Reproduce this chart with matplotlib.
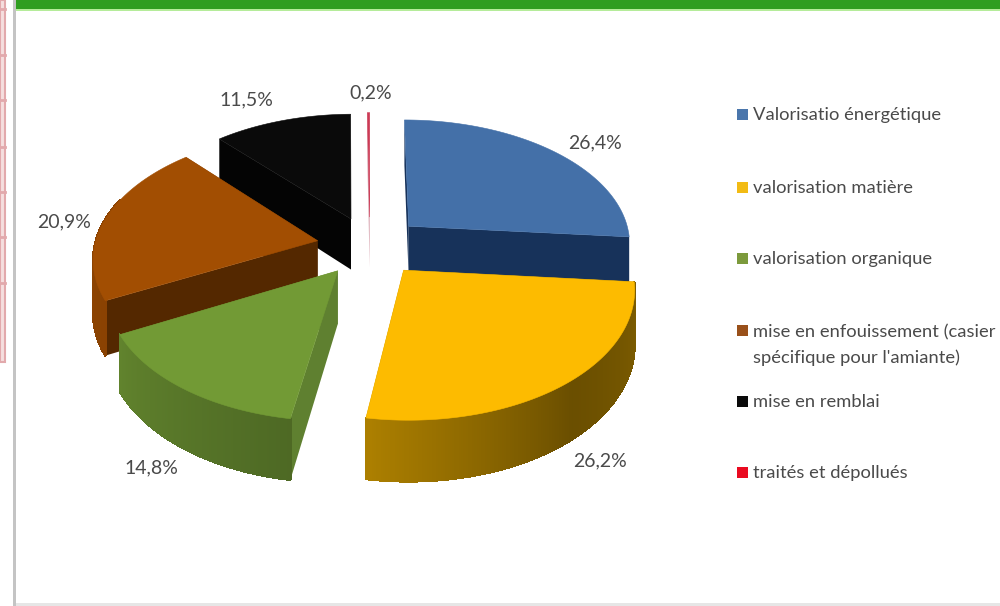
import numpy as np
import matplotlib
matplotlib.use("Agg")
import matplotlib.pyplot as plt
from matplotlib.collections import PolyCollection
from matplotlib.patches import Polygon, Rectangle

plt.rcParams["font.family"] = ["Lato", "DejaVu Sans"]

categories = ["Valorisatio énergétique", "valorisation matière", "valorisation organique",
              "mise en enfouissement (casier\nspécifique pour l'amiante)", "mise en remblai",
              "traités et dépollués"]
values = [26.4, 26.2, 14.8, 20.9, 11.5, 0.2]
value_labels = ["26,4%", "26,2%", "14,8%", "20,9%", "11,5%", "0,2%"]

top_colors = ["#4470a8", "#fdbb00", "#729a35", "#a24e02", "#0a0a0a", "#cc3a55"]
cut_colors = ["#17325a", "#7a5c00", "#5f8030", "#542800", "#040404", "#d8a0ac"]
legend_colors = ["#4a76ac", "#f2bb14", "#7c9a3c", "#99501a", "#0a0a0a", "#ea0a20"]

# pie geometry in image pixels
CX, CY = 370, 246
RX, RY = 223, 124.4
EXPLODE = 0.24
PERSP = 0.1265
DEPTH = 52

label_pos = [(595, 143), (600, 461), (151, 468), (64, 222), (246, 100), (371, 93)]
legend_y = [114, 187, 258, 330, 401, 472]
legend_text_y = [115, 188, 259, 345, 402, 473]
draw_order = [4, 5, 0, 3, 2, 1]


def project(x, y, z=0.0):
    """disc coords (y towards the back) -> pixels, simple perspective."""
    w = 1 / (1 + PERSP * y)
    return CX + RX * x * w, CY - RY * y * w + DEPTH * z * w


def shade(theta):
    return np.interp(theta, [95, 140, 189, 243, 300], [0.5, 0.42, 0.68, 0.85, 0.88])


def draw_slice(ax, start, end, color, cut_color):
    mid = np.radians((start + end) / 2)
    ox, oy = EXPLODE * np.sin(mid), EXPLODE * np.cos(mid)
    th = np.linspace(start, end, max(int(end - start) * 2, 2))
    rad = np.radians(th)
    xs, ys = ox + np.sin(rad), oy + np.cos(rad)

    # cut faces
    for i in (0, -1):
        quad = [project(ox, oy), project(xs[i], ys[i]),
                project(xs[i], ys[i], 1), project(ox, oy, 1)]
        ax.add_patch(Polygon(quad, closed=True, fc=cut_color, ec="none"))

    # outer wall, shaded strip by strip; the far back is never seen
    base = np.array(matplotlib.colors.to_rgb(color))
    quads, cols = [], []
    for k in range(len(th) - 1):
        if not 95 <= th[k] <= 290:
            continue
        quads.append([project(xs[k], ys[k]), project(xs[k + 1], ys[k + 1]),
                      project(xs[k + 1], ys[k + 1], 1), project(xs[k], ys[k], 1)])
        cols.append(base * shade((th[k] + th[k + 1]) / 2))
    if quads:
        ax.add_collection(PolyCollection(quads, facecolors=cols, edgecolors=cols,
                                         linewidths=1.0, antialiaseds=False))

    # top face
    top = [project(ox, oy)] + [project(a, b) for a, b in zip(xs, ys)]
    ax.add_patch(Polygon(top, closed=True, fc=color, ec=color, lw=0.4))


fig = plt.figure(figsize=(10, 6.06), dpi=100)
ax = fig.add_axes([0, 0, 1, 1])
ax.set_xlim(0, 1000)
ax.set_ylim(606, 0)
ax.axis("off")

# page furniture around the pasted chart
ax.add_patch(Rectangle((15, 0), 985, 9, fc="#2f9e20", ec="none"))
ax.add_patch(Rectangle((15, 9), 985, 2, fc="#b5ec9a", ec="none"))
ax.add_patch(Rectangle((13, 0), 3, 606, fc="#c4c4c4", ec="none"))
ax.add_patch(Rectangle((16, 603), 984, 3, fc="#e6e6e6", ec="none"))
ax.add_patch(Rectangle((0, 0), 4.5, 362, fc="#f5dfdf", ec="#e2a9ac", lw=1.5))
for y in [9, 55, 100, 147, 192, 237, 283]:
    ax.plot([0, 4.5], [y, y], color="#e2a9ac", lw=2)

edges = np.concatenate([[0], np.cumsum(values)]) / np.sum(values) * 360
for i in draw_order:
    draw_slice(ax, edges[i], edges[i + 1], top_colors[i], cut_colors[i])

for txt, (x, y) in zip(value_labels, label_pos):
    ax.text(x, y, txt, ha="center", va="center", fontsize=14, color="#4a4a4a")

for name, col, y, ty in zip(categories, legend_colors, legend_y, legend_text_y):
    ax.add_patch(Rectangle((737, y - 5), 11, 11, fc=col, ec="none"))
    ax.text(753, ty, name, ha="left", va="center", fontsize=13.2, color="#4a4a4a",
            linespacing=1.64)

fig.savefig("out.png", dpi=100)
